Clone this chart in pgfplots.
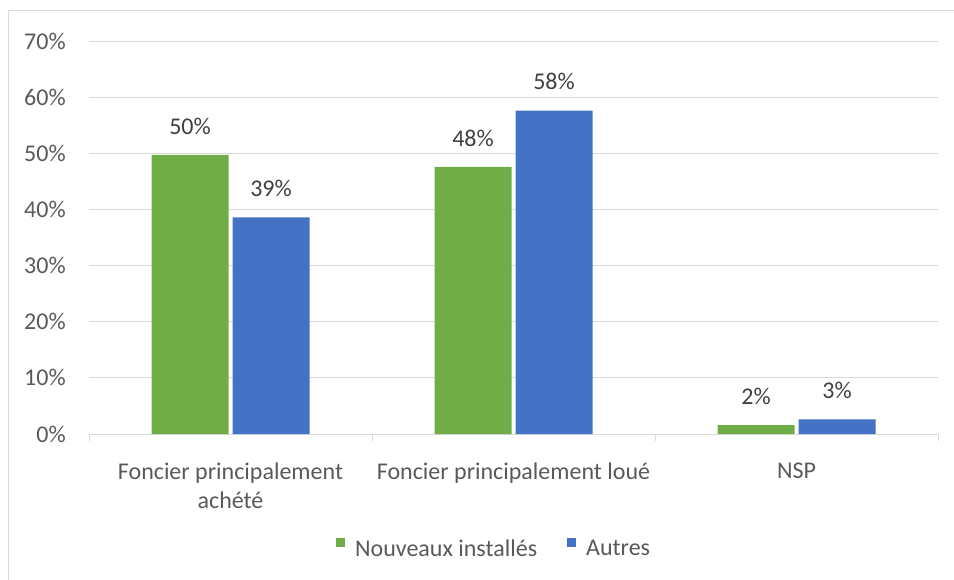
\documentclass[border=0pt]{standalone}
\usepackage{fontspec}
\setmainfont{Carlito}
\usepackage{pgfplots}
\pgfplotsset{compat=1.18}
\definecolor{cgreen}{HTML}{70AD47}
\definecolor{cblue}{HTML}{4472C4}
\definecolor{cgrid}{HTML}{D9D9D9}
\definecolor{ctick}{HTML}{595959}
\definecolor{clab}{HTML}{404040}
\newcommand{\cf}{\fontsize{18}{21.4}\selectfont}
\pgfplotsset{sqlegend/.style={legend image code/.code={\fill[##1] (0pt,1.875pt) rectangle (6.75pt,8.625pt);}}}
\begin{document}
\begin{tikzpicture}
\path[use as bounding box] (0,0) rectangle (715.5pt,434.25pt);
\draw[cgrid, line width=0.75pt] (6pt,-1pt) -- (6pt,426pt) -- (717pt,426pt);
\begin{axis}[
  at={(66.75pt,108.75pt)}, anchor=south west,
  scale only axis, width=636.75pt, height=294.75pt,
  /pgf/number format/assume math mode=true,
  ybar=3pt, bar width=57.75pt,
  xmin=-0.5, xmax=2.5, ymin=0, ymax=70,
  axis lines*=left,
  y axis line style={draw=none},
  x axis line style={cgrid, line width=0.75pt},
  xtick={0,1,2},
  xticklabels={{Foncier principalement\\achété},{Foncier principalement loué},{NSP}},
  x tick label style={align=center, anchor=north, inner sep=0pt, yshift=-17.5pt, font=\cf, text=ctick},
  xtick style={draw=none},
  extra x ticks={-0.5,0.5,1.5,2.5},
  extra x tick labels={},
  extra x tick style={xmajorgrids=false, tick align=outside, major tick length=5.5pt, xtick style={draw=cgrid, line width=0.75pt}},
  ytick={0,10,...,70},
  yticklabels={0\%,10\%,20\%,30\%,40\%,50\%,60\%,70\%},
  y tick label style={anchor=east, inner sep=0pt, xshift=-17.25pt, font=\cf, text=ctick},
  ytick style={draw=none},
  ymajorgrids, major grid style={cgrid, line width=0.75pt},
  nodes near coords={\pgfmathprintnumber[fixed,precision=0]{\pgfplotspointmeta}\%},
  every node near coord/.append style={anchor=base, inner sep=0pt, yshift=15.5pt, font=\cf, text=clab},
  legend style={at={(0.476,-0.29)}, anchor=center, draw=none, fill=none,
    font=\cf, text=ctick, nodes={inner sep=0pt},
    /tikz/every even column/.append style={column sep=22.5pt},
    /tikz/every odd column/.append style={column sep=7.5pt}},
  legend columns=2,
  clip=false,
]
\addplot[fill=cgreen, draw=none, sqlegend] coordinates {(0,49.7) (1,47.6) (2,1.6)};
\addplot[fill=cblue, draw=none, sqlegend] coordinates {(0,38.6) (1,57.6) (2,2.6)};
\legend{Nouveaux installés, Autres}
\end{axis}
\end{tikzpicture}
\end{document}
